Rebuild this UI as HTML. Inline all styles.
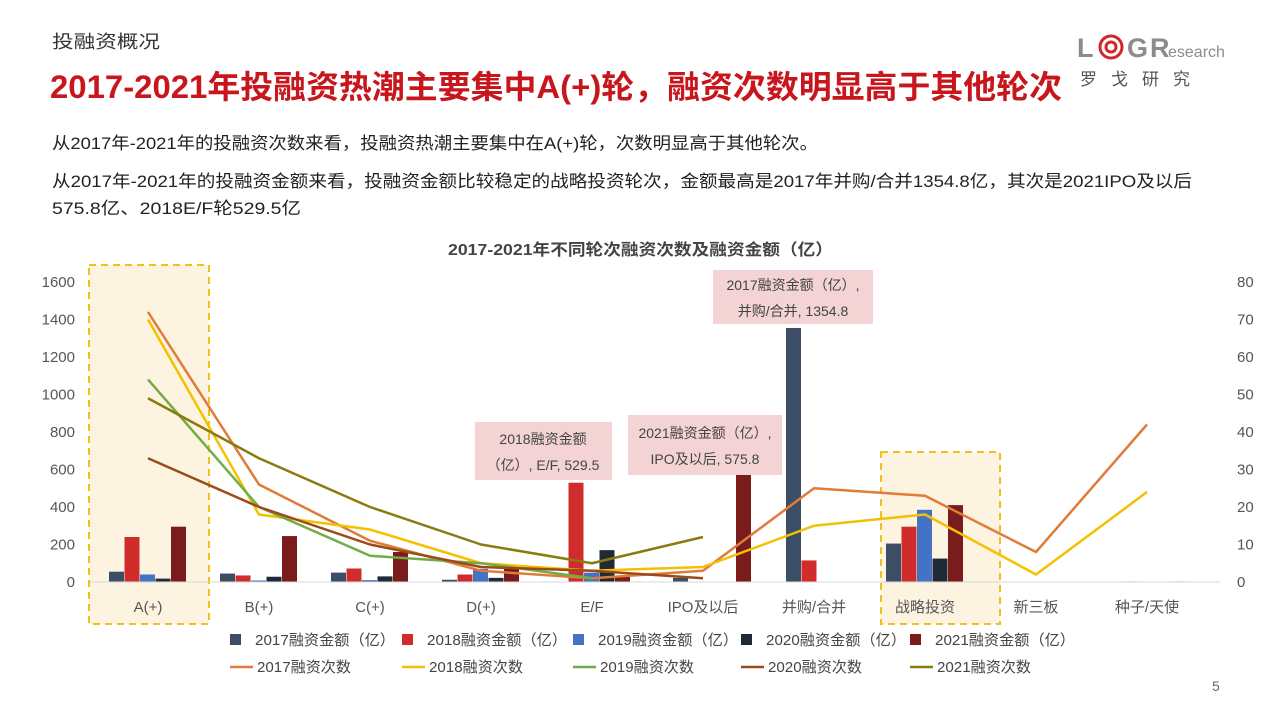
<!DOCTYPE html>
<html><head><meta charset="utf-8">
<style>
body{margin:0;background:#fff;width:1280px;height:719px;overflow:hidden;font-family:"Liberation Sans","Noto Sans CJK SC",sans-serif;}
svg text{font-family:"Liberation Sans","Noto Sans CJK SC",sans-serif;}
</style></head><body>
<svg id="s" width="1280" height="719" xmlns="http://www.w3.org/2000/svg">
<text x="52" y="48" font-size="18" fill="#333" textLength="108" lengthAdjust="spacingAndGlyphs">投融资概况</text>
<text x="50" y="98" font-size="32" font-weight="bold" fill="#c8161d" textLength="1012" lengthAdjust="spacingAndGlyphs">2017-2021年投融资热潮主要集中A(+)轮，融资次数明显高于其他轮次</text>
<g font-weight="bold" font-size="27" fill="#8c8c8c">
<text x="1077" y="57">L</text><text x="1127" y="57">G</text><text x="1150" y="57">R</text></g>
<text x="1168" y="57" font-size="16" fill="#8c8c8c">esearch</text>
<circle cx="1111" cy="47" r="11" fill="none" stroke="#d0262c" stroke-width="3"/>
<circle cx="1111" cy="47" r="5" fill="none" stroke="#d0262c" stroke-width="3"/>
<text x="1080" y="85" font-size="17" fill="#555" letter-spacing="14">罗戈研究</text>
<text x="52" y="149" font-size="17" fill="#222" textLength="766" lengthAdjust="spacingAndGlyphs">从2017年-2021年的投融资次数来看，投融资热潮主要集中在A(+)轮，次数明显高于其他轮次。</text>
<text x="52" y="187" font-size="17" fill="#222" textLength="1140" lengthAdjust="spacingAndGlyphs">从2017年-2021年的投融资金额来看，投融资金额比较稳定的战略投资轮次，金额最高是2017年并购/合并1354.8亿，其次是2021IPO及以后</text>
<text x="52" y="214" font-size="17" fill="#222" textLength="249" lengthAdjust="spacingAndGlyphs">575.8亿、2018E/F轮529.5亿</text>
<text x="448" y="255" font-size="16" font-weight="bold" fill="#444" textLength="385" lengthAdjust="spacingAndGlyphs">2017-2021年不同轮次融资次数及融资金额（亿）</text>
<rect x="89" y="265" width="120" height="359" fill="#fdf3e1" stroke="#f0c020" stroke-width="2" stroke-dasharray="7,5"/>
<rect x="881" y="452" width="119" height="172" fill="#fdf3e1" stroke="#f0c020" stroke-width="2" stroke-dasharray="7,5"/>
<g id="g"></g>
<line x1="90" y1="582" x2="1220" y2="582" stroke="#d9d9d9" stroke-width="1"/>
<rect x="475" y="422" width="137" height="58" fill="#f3d3d3"/>
<text x="543" y="444" font-size="14" fill="#444" text-anchor="middle">2018融资金额</text>
<text x="543" y="470" font-size="14" fill="#444" text-anchor="middle">（亿）, E/F, 529.5</text>
<rect x="628" y="415" width="154" height="60" fill="#f3d3d3"/>
<text x="705" y="438" font-size="14" fill="#444" text-anchor="middle">2021融资金额（亿）,</text>
<text x="705" y="464" font-size="14" fill="#444" text-anchor="middle">IPO及以后, 575.8</text>
<rect x="713" y="270" width="160" height="54" fill="#f3d3d3"/>
<text x="793" y="290" font-size="14" fill="#444" text-anchor="middle">2017融资金额（亿）,</text>
<text x="793" y="316" font-size="14" fill="#444" text-anchor="middle">并购/合并, 1354.8</text>
<text x="1212" y="691" font-size="14" fill="#666">5</text>
</svg>
<script>
var g=document.getElementById('g'),h='';
var cx=[148,259,370,481,592,703,814,925,1036,1147];
var names=['A(+)','B(+)','C(+)','D(+)','E/F','IPO及以后','并购/合并','战略投资','新三板','种子/天使'];
var bc=['#3b4e66','#d02c2c','#4472c4','#1f2a36','#7b1c1c'];
var bars=[[55,45,50,12,0,22,1354.8,205,0,2],[240,35,72,40,529.5,0,115,295,0,3],[40,8,10,70,50,0,0,385,0,0],[18,28,30,22,170,0,0,125,0,0],[295,245,160,85,30,575.8,0,410,0,3]];
for(var i=0;i<10;i++){for(var k=0;k<5;k++){var v=bars[k][i];if(!v)continue;var hh=v*0.1875;
var x=(i==5)?cx[i]-30+k*15.5:cx[i]-39+k*15.5; if(i==5&&k==4)x=736; if(i==6)x=cx[i]-28+k*15.5;
h+='<rect x="'+x+'" y="'+(582-hh)+'" width="15" height="'+hh+'" fill="'+bc[k]+'"/>';}
h+='<text x="'+cx[i]+'" y="612" font-size="15" fill="#555" text-anchor="middle">'+names[i]+'</text>';}
for(var t=0;t<=8;t++){h+='<text x="75" y="'+(587-t*37.5)+'" font-size="15" fill="#555" text-anchor="end">'+(t*200)+'</text>';
h+='<text x="1237" y="'+(587-t*37.5)+'" font-size="15" fill="#555">'+(t*10)+'</text>';}
var L=[['#e07b39',[72,26,11,3,1,3,25,23,8,42]],['#f5c000',[70,18,14,5,3,4,15,18,2,24]],['#70ad47',[54,20,7,5,1]],['#9c4a1a',[33,20,10,4,3,1]],['#8c7a10',[49,33,20,10,5,12]]];
L.forEach(function(l){var p=l[1].map(function(v,i){return cx[i]+','+(582-v*3.75)}).join(' ');
h+='<polyline points="'+p+'" fill="none" stroke="'+l[0]+'" stroke-width="2.5" stroke-linejoin="round"/>';});
var xs=[230,402,573,741,910];
var lg=[['2017融资金额（亿）',bc[0]],['2018融资金额（亿）',bc[1]],['2019融资金额（亿）',bc[2]],['2020融资金额（亿）',bc[3]],['2021融资金额（亿）',bc[4]]];
lg.forEach(function(a,i){var x=xs[i];
h+='<rect x="'+x+'" y="634" width="11" height="11" fill="'+a[1]+'"/>';
h+='<text x="'+(x+25)+'" y="645" font-size="15" fill="#444" textLength="140" lengthAdjust="spacingAndGlyphs">'+a[0]+'</text>';});
var ln=[['2017融资次数','#e07b39'],['2018融资次数','#f5c000'],['2019融资次数','#70ad47'],['2020融资次数','#9c4a1a'],['2021融资次数','#8c7a10']];
ln.forEach(function(a,i){var x=xs[i];
h+='<line x1="'+x+'" y1="667" x2="'+(x+23)+'" y2="667" stroke="'+a[1]+'" stroke-width="2.5"/>';
h+='<text x="'+(x+27)+'" y="672" font-size="15" fill="#444" textLength="94" lengthAdjust="spacingAndGlyphs">'+a[0]+'</text>';});
g.innerHTML=h;
</script>
</body></html>
